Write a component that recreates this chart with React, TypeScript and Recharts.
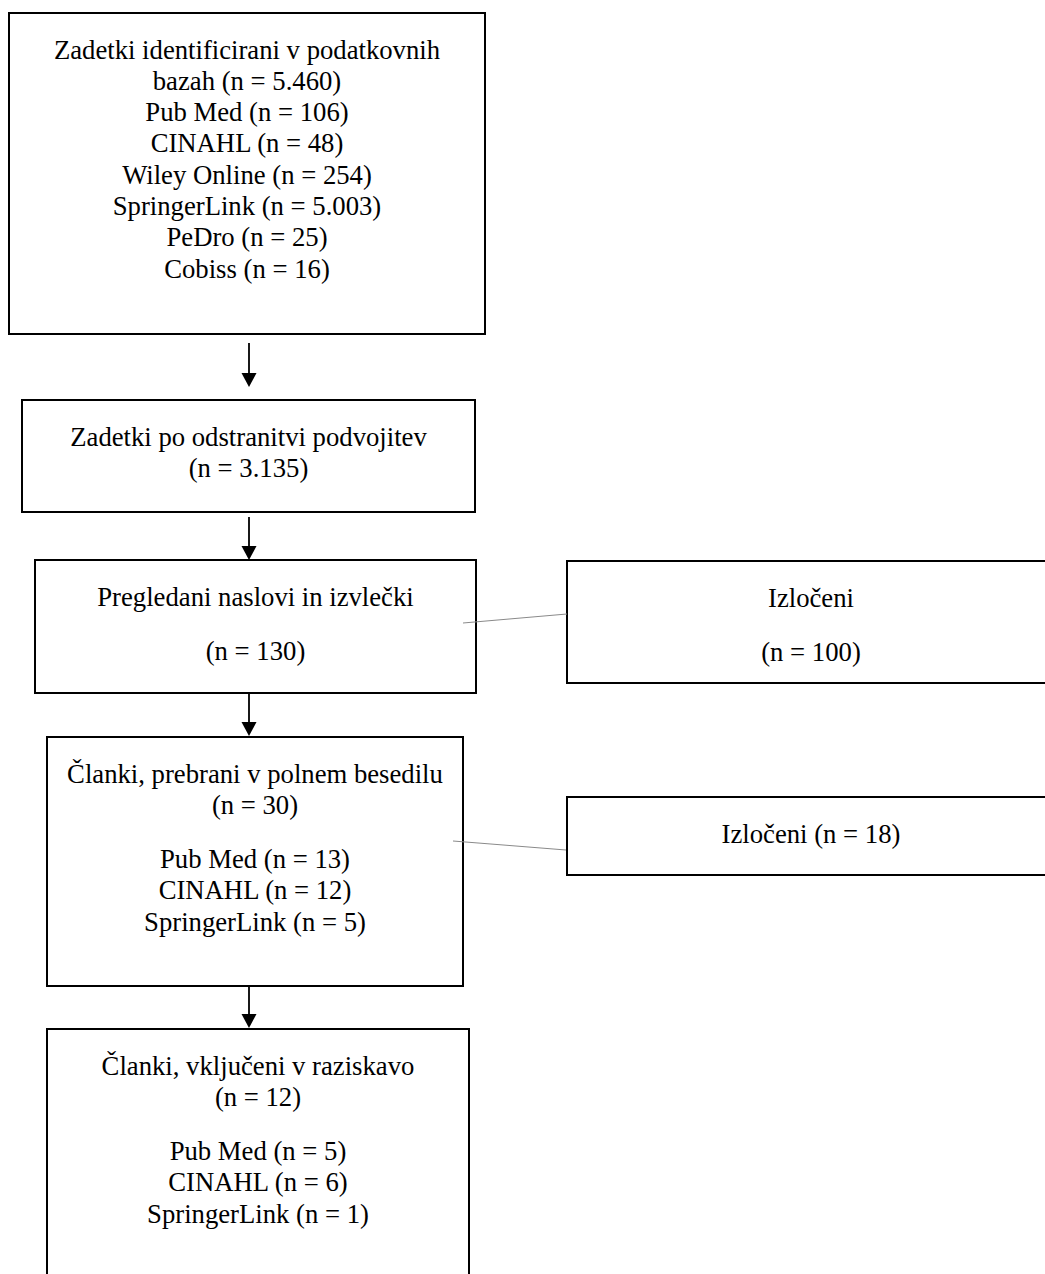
import React from 'react';
import { ScatterChart, Scatter, XAxis, YAxis, ReferenceArea, ReferenceLine } from 'recharts';

// --- data ---
const databases = ['Pub Med', 'CINAHL', 'Wiley Online', 'SpringerLink', 'PeDro', 'Cobiss'];
const identifiedByDatabase = [106, 48, 254, 5003, 25, 16];

const stageTitles = [
  'Zadetki identificirani v podatkovnih bazah',
  'Zadetki po odstranitvi podvojitev',
  'Pregledani naslovi in izvlečki',
  'Članki, prebrani v polnem besedilu',
  'Članki, vključeni v raziskavo',
];
const stageTotals = [5460, 3135, 130, 30, 12];

const reviewedDatabases = ['Pub Med', 'CINAHL', 'SpringerLink'];
const fullTextByDatabase = [13, 12, 5];
const includedByDatabase = [5, 6, 1];

const excludedLabel = 'Izločeni';
const excludedTotals = [100, 18];

// --- layout (diagram units, 1 unit = 1px) ---
const W = 1045;
const H = 1274;
const boxLeft = [9, 22, 35, 47, 47];
const boxRight = [485, 475, 476, 463, 469];
const boxTop = [13, 400, 560, 737, 1029];
const boxBottom = [334, 512, 693, 986, 1300];
const sideLeft = 567;
const sideRight = 1055;
const sideTop = [561, 797];
const sideBottom = [683, 875];
const arrowX = 249;
const arrowStart = [343, 517, 693, 986];
const arrowEnd = [387, 560, 736, 1028];
const connectorFrom = [{ x: 463, y: 623 }, { x: 453, y: 841 }];
const connectorTo = [{ x: 567, y: 614 }, { x: 566, y: 850 }];

const FIRST_LINE = 45.5;
const LINE_GAP = 31.3;
const PARA_GAP = 23;
const FONT = '"Liberation Serif", "Times New Roman", serif';

const fmt = (v: number) => String(v).replace(/\B(?=(\d{3})+(?!\d))/g, '.');
const n = (v: number) => `(n = ${fmt(v)})`;

// paragraphs of text per box
const firstTitleWords = stageTitles[0].split(' ');
const mainParagraphs: string[][][] = [
  [[
    firstTitleWords.slice(0, -1).join(' '),
    `${firstTitleWords[firstTitleWords.length - 1]} ${n(stageTotals[0])}`,
    ...databases.map((d, i) => `${d} ${n(identifiedByDatabase[i])}`),
  ]],
  [[stageTitles[1], n(stageTotals[1])]],
  [[stageTitles[2]], [n(stageTotals[2])]],
  [[stageTitles[3], n(stageTotals[3])], reviewedDatabases.map((d, i) => `${d} ${n(fullTextByDatabase[i])}`)],
  [[stageTitles[4], n(stageTotals[4])], reviewedDatabases.map((d, i) => `${d} ${n(includedByDatabase[i])}`)],
];
const sideParagraphs: string[][][] = [
  [[excludedLabel], [n(excludedTotals[0])]],
  [[`${excludedLabel} ${n(excludedTotals[1])}`]],
];

type TextPoint = { x: number; y: number; text: string };

const layoutText = (cx: number, top: number, paragraphs: string[][]): TextPoint[] => {
  const out: TextPoint[] = [];
  let y = top + FIRST_LINE;
  paragraphs.forEach((para, p) => {
    if (p > 0) y += PARA_GAP;
    para.forEach((line) => {
      out.push({ x: cx, y, text: line });
      y += LINE_GAP;
    });
  });
  return out;
};

const textPoints: TextPoint[] = [
  ...mainParagraphs.flatMap((paras, i) => layoutText((boxLeft[i] + boxRight[i]) / 2, boxTop[i], paras)),
  ...sideParagraphs.flatMap((paras, i) => layoutText((sideLeft + sideRight) / 2, sideTop[i], paras)),
];

const arrowHeads = arrowEnd.map((y) => ({ x: arrowX, y }));

const TextShape = (props: any) => (
  <text
    x={props.cx}
    y={props.cy}
    textAnchor="middle"
    fontFamily={FONT}
    fontSize={26.7}
    fill="#000"
  >
    {props.payload.text}
  </text>
);

const ArrowHead = (props: any) => {
  const { cx, cy } = props;
  return <path d={`M${cx - 7.5},${cy - 14} L${cx + 7.5},${cy - 14} L${cx},${cy} Z`} fill="#000" />;
};

const App: React.FC = () => {
  return (
    <div
      style={{
        position: 'fixed',
        left: 0,
        top: 0,
        width: W,
        height: H,
        overflow: 'hidden',
        background: '#fff',
      }}
    >
      <ScatterChart width={W} height={H} margin={{ top: 0, right: 0, bottom: 0, left: 0 }}>
        <XAxis type="number" dataKey="x" domain={[0, W]} hide allowDataOverflow />
        <YAxis type="number" dataKey="y" domain={[0, H]} reversed hide allowDataOverflow />

        {boxLeft.map((x1, i) => (
          <ReferenceArea
            key={`box-${i}`}
            x1={x1}
            x2={boxRight[i]}
            y1={boxTop[i]}
            y2={boxBottom[i]}
            ifOverflow="visible"
            fill="none"
            stroke="#000"
            strokeWidth={2}
          />
        ))}
        {sideTop.map((y1, i) => (
          <ReferenceArea
            key={`side-${i}`}
            x1={sideLeft}
            x2={sideRight}
            y1={y1}
            y2={sideBottom[i]}
            ifOverflow="visible"
            fill="none"
            stroke="#000"
            strokeWidth={2}
          />
        ))}

        {arrowStart.map((y, i) => (
          <ReferenceLine
            key={`arrow-${i}`}
            segment={[{ x: arrowX, y }, { x: arrowX, y: arrowEnd[i] - 10 }]}
            stroke="#000"
            strokeWidth={1.8}
          />
        ))}
        {connectorFrom.map((p, i) => (
          <ReferenceLine
            key={`conn-${i}`}
            segment={[p, connectorTo[i]]}
            stroke="#8a8a8a"
            strokeWidth={1}
          />
        ))}

        <Scatter data={arrowHeads} shape={ArrowHead} isAnimationActive={false} />
        <Scatter data={textPoints} shape={TextShape} isAnimationActive={false} />
      </ScatterChart>
    </div>
  );
};

export default App;
